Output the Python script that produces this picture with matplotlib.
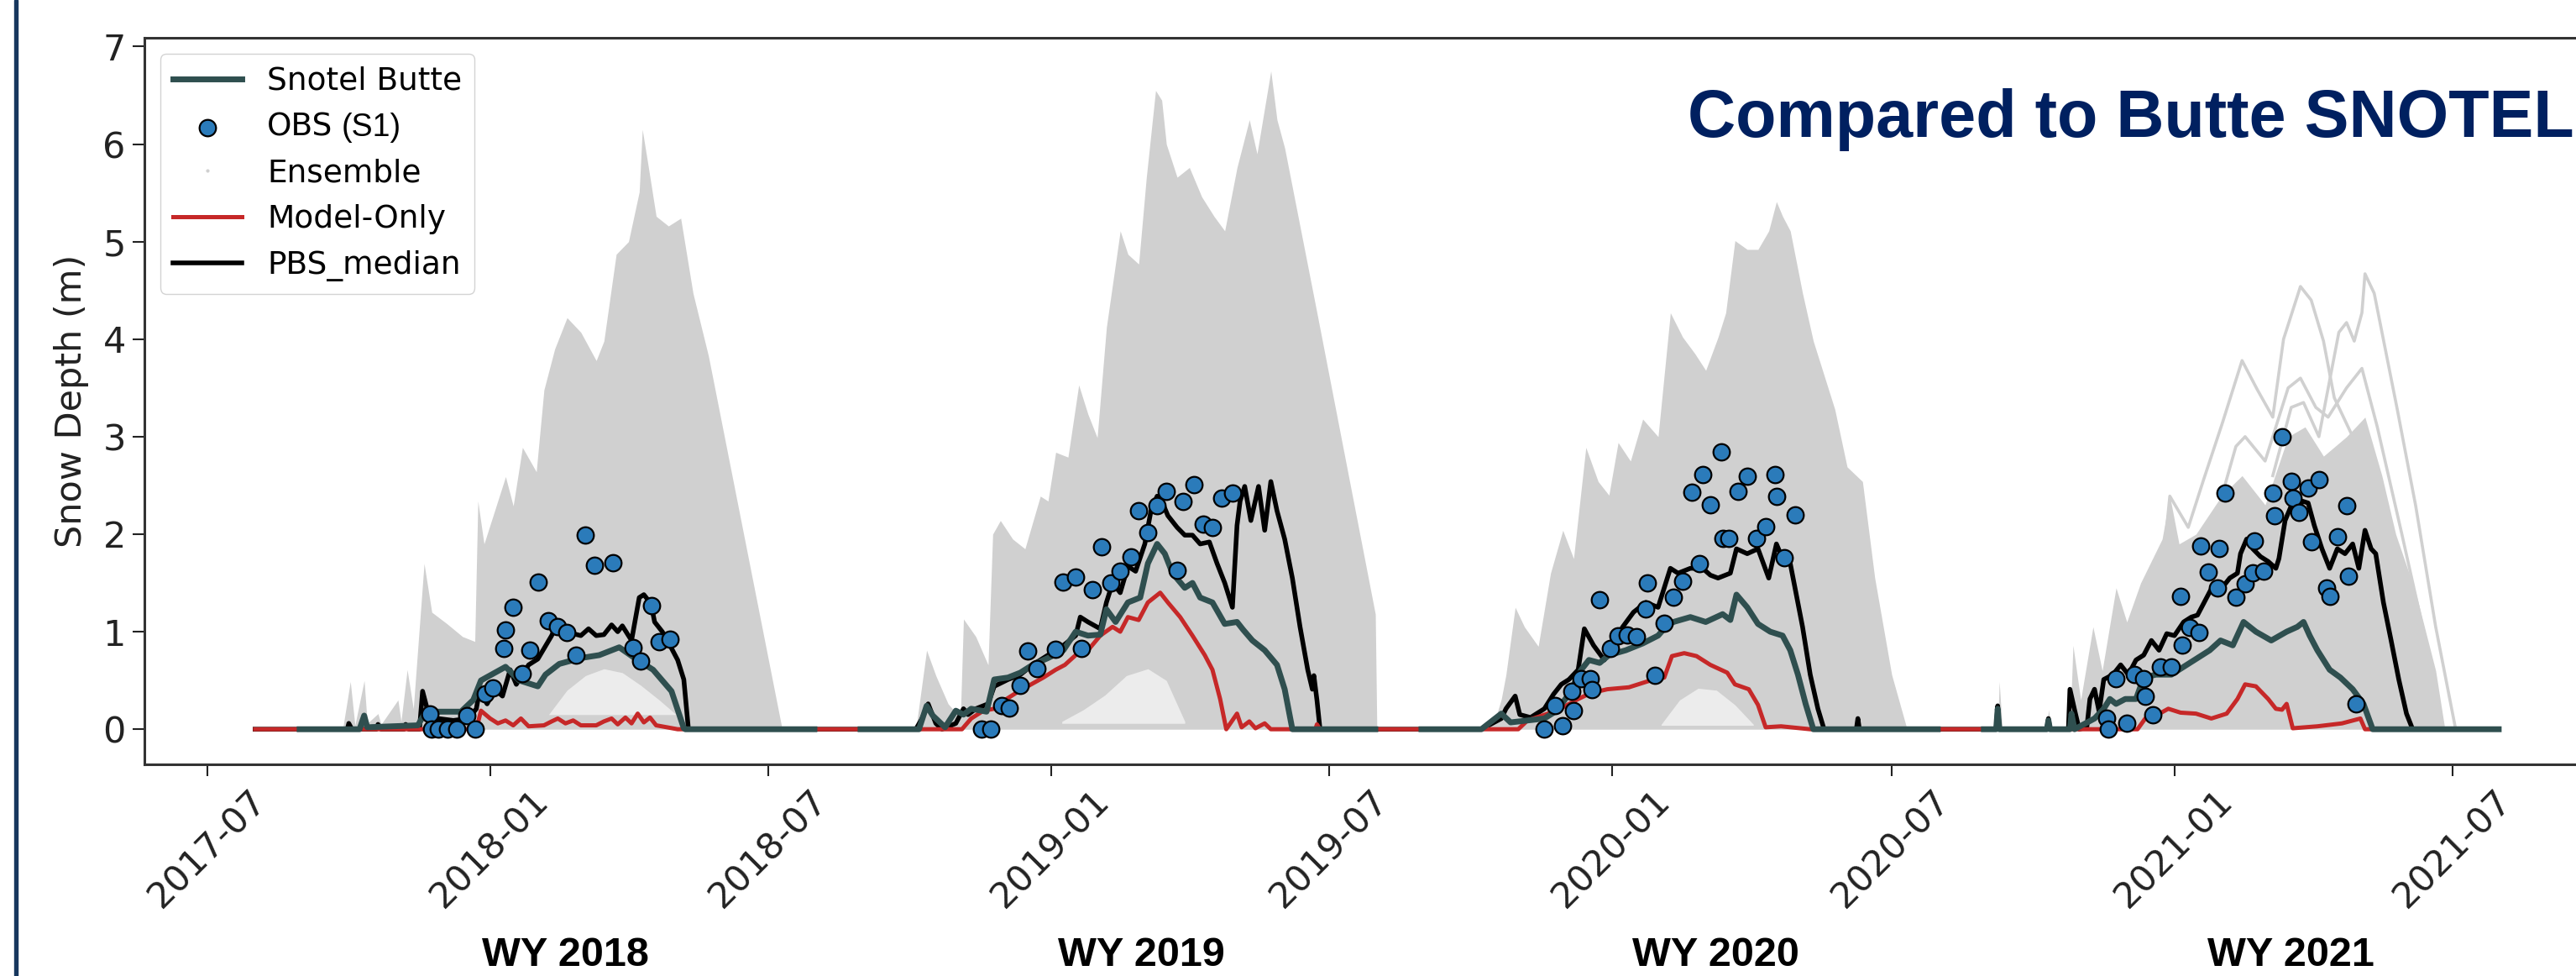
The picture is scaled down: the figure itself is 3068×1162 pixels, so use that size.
import numpy as np
import pandas as pd
import matplotlib
matplotlib.use("Agg")
import matplotlib.pyplot as plt
import matplotlib.dates as mdates
from matplotlib.lines import Line2D

# ---------------- data ----------------
# Model-only run (snow depth, m)
model_pts = [
    ('2017-08-01', 0), ('2017-12-23', 0), ('2017-12-26', 0.19), ('2018-01-01', 0.11),
    ('2018-01-06', 0.06), ('2018-01-11', 0.09), ('2018-01-16', 0.04), ('2018-01-21', 0.11),
    ('2018-01-26', 0.03), ('2018-02-05', 0.04), ('2018-02-10', 0.08), ('2018-02-14', 0.11),
    ('2018-02-19', 0.06), ('2018-02-24', 0.09), ('2018-03-01', 0.04), ('2018-03-11', 0.04),
    ('2018-03-16', 0.08), ('2018-03-21', 0.11), ('2018-03-25', 0.05), ('2018-03-30', 0.12),
    ('2018-04-03', 0.06), ('2018-04-07', 0.16), ('2018-04-11', 0.07), ('2018-04-15', 0.12),
    ('2018-04-19', 0.04), ('2018-05-03', 0),
    ('2018-11-04', 0), ('2018-11-10', 0.11), ('2018-11-18', 0.19), ('2018-11-25', 0.21),
    ('2018-12-03', 0.31), ('2018-12-11', 0.39), ('2018-12-19', 0.46), ('2018-12-27', 0.53),
    ('2019-01-04', 0.61), ('2019-01-10', 0.66), ('2019-01-17', 0.76), ('2019-01-25', 0.81),
    ('2019-02-02', 0.96), ('2019-02-10', 1.05), ('2019-02-15', 1.00), ('2019-02-20', 1.15),
    ('2019-02-27', 1.12), ('2019-03-05', 1.30), ('2019-03-13', 1.40), ('2019-03-18', 1.30),
    ('2019-03-26', 1.15), ('2019-04-03', 0.96), ('2019-04-11', 0.76), ('2019-04-16', 0.61),
    ('2019-04-21', 0.31), ('2019-04-25', 0), ('2019-05-02', 0.16), ('2019-05-05', 0.02),
    ('2019-05-10', 0.08), ('2019-05-14', 0.01), ('2019-05-20', 0.06), ('2019-05-24', 0),
    ('2019-06-22', 0), ('2019-06-23', 0.05), ('2019-06-25', 0),
    ('2019-11-01', 0), ('2019-11-07', 0.09), ('2019-11-26', 0.19), ('2019-12-10', 0.31),
    ('2019-12-18', 0.37), ('2019-12-29', 0.41), ('2020-01-12', 0.43), ('2020-01-26', 0.50),
    ('2020-02-04', 0.53), ('2020-02-09', 0.75), ('2020-02-17', 0.78), ('2020-02-25', 0.75),
    ('2020-03-05', 0.66), ('2020-03-16', 0.58), ('2020-03-21', 0.46), ('2020-03-30', 0.41),
    ('2020-04-05', 0.25), ('2020-04-10', 0.02), ('2020-04-20', 0.03), ('2020-05-09', 0),
    ('2020-12-08', 0), ('2020-12-13', 0.11), ('2020-12-20', 0.14), ('2020-12-28', 0.21),
    ('2021-01-05', 0.17), ('2021-01-15', 0.16), ('2021-01-25', 0.11), ('2021-02-04', 0.16),
    ('2021-02-11', 0.31), ('2021-02-16', 0.46), ('2021-02-23', 0.44), ('2021-03-03', 0.31),
    ('2021-03-08', 0.21), ('2021-03-12', 0.20), ('2021-03-15', 0.26), ('2021-03-19', 0.01),
    ('2021-04-04', 0.03), ('2021-04-20', 0.06), ('2021-05-02', 0.11), ('2021-05-05', 0),
    ('2021-07-31', 0),
]

# PBS ensemble median
pbs_pts = [
    ('2017-08-01', 0), ('2017-09-30', 0), ('2017-10-01', 0.06), ('2017-10-03', 0),
    ('2017-10-19', 0), ('2017-10-20', 0.05), ('2017-10-22', 0), ('2017-11-06', 0),
    ('2017-11-07', 0.05), ('2017-11-09', 0), ('2017-11-16', 0), ('2017-11-18', 0.39),
    ('2017-11-21', 0.21), ('2017-11-23', 0.12), ('2017-12-08', 0.09), ('2017-12-18', 0.11),
    ('2017-12-23', 0.21), ('2017-12-25', 0.39), ('2017-12-30', 0.26), ('2018-01-04', 0.41),
    ('2018-01-09', 0.34), ('2018-01-14', 0.61), ('2018-01-18', 0.46), ('2018-01-26', 0.66),
    ('2018-02-01', 0.72), ('2018-02-10', 0.96), ('2018-02-14', 1.10), ('2018-02-19', 1.05),
    ('2018-02-24', 0.98), ('2018-03-01', 0.96), ('2018-03-06', 1.03), ('2018-03-11', 0.96),
    ('2018-03-16', 0.97), ('2018-03-21', 1.07), ('2018-03-25', 1.00), ('2018-03-28', 1.06),
    ('2018-04-03', 0.91), ('2018-04-08', 1.35), ('2018-04-11', 1.38), ('2018-04-15', 1.30),
    ('2018-04-17', 1.18), ('2018-04-18', 1.10), ('2018-04-23', 1.00), ('2018-04-28', 0.86),
    ('2018-05-03', 0.71), ('2018-05-07', 0.51), ('2018-05-10', 0),
    ('2018-10-05', 0), ('2018-10-09', 0.11), ('2018-10-13', 0.26), ('2018-10-18', 0.06),
    ('2018-10-22', 0), ('2018-10-31', 0.06), ('2018-11-05', 0.21), ('2018-11-08', 0.15),
    ('2018-11-13', 0.21), ('2018-11-21', 0.26), ('2018-11-25', 0.44), ('2018-12-04', 0.51),
    ('2018-12-12', 0.56), ('2018-12-20', 0.66), ('2018-12-30', 0.76), ('2019-01-09', 0.86),
    ('2019-01-17', 0.96), ('2019-01-20', 1.15), ('2019-01-25', 1.10), ('2019-02-02', 1.03),
    ('2019-02-06', 1.30), ('2019-02-10', 1.50), ('2019-02-15', 1.40), ('2019-02-20', 1.67),
    ('2019-02-25', 1.62), ('2019-03-03', 1.90), ('2019-03-07', 2.24), ('2019-03-11', 2.39),
    ('2019-03-14', 2.34), ('2019-03-18', 2.19), ('2019-03-24', 2.07), ('2019-03-29', 1.99),
    ('2019-04-03', 1.99), ('2019-04-08', 1.90), ('2019-04-14', 1.92), ('2019-04-19', 1.70),
    ('2019-04-24', 1.50), ('2019-04-29', 1.25), ('2019-05-02', 2.09), ('2019-05-04', 2.34),
    ('2019-05-07', 2.49), ('2019-05-11', 2.14), ('2019-05-16', 2.49), ('2019-05-20', 2.04),
    ('2019-05-24', 2.54), ('2019-05-28', 2.24), ('2019-06-02', 1.95), ('2019-06-07', 1.55),
    ('2019-06-12', 1.05), ('2019-06-17', 0.61), ('2019-06-20', 0.41), ('2019-06-21', 0.55),
    ('2019-06-23', 0.30), ('2019-06-25', 0),
    ('2019-10-08', 0), ('2019-10-21', 0.11), ('2019-10-24', 0.21), ('2019-10-30', 0.34),
    ('2019-11-02', 0.15), ('2019-11-09', 0.12), ('2019-11-18', 0.21), ('2019-11-24', 0.36),
    ('2019-11-29', 0.46), ('2019-12-04', 0.51), ('2019-12-10', 0.61), ('2019-12-14', 1.03),
    ('2019-12-20', 0.86), ('2019-12-27', 0.71), ('2020-01-01', 0.86), ('2020-01-08', 1.05),
    ('2020-01-15', 1.20), ('2020-01-23', 1.30), ('2020-01-31', 1.25), ('2020-02-08', 1.65),
    ('2020-02-13', 1.60), ('2020-02-21', 1.65), ('2020-02-29', 1.65), ('2020-03-05', 1.58),
    ('2020-03-10', 1.55), ('2020-03-18', 1.60), ('2020-03-22', 1.85), ('2020-03-29', 1.80),
    ('2020-04-05', 1.85), ('2020-04-12', 1.55), ('2020-04-17', 1.90), ('2020-04-21', 1.75),
    ('2020-04-26', 1.70), ('2020-05-04', 1.05), ('2020-05-09', 0.56), ('2020-05-14', 0.21),
    ('2020-05-18', 0), ('2020-06-08', 0), ('2020-06-09', 0.11), ('2020-06-10', 0),
    ('2020-09-07', 0), ('2020-09-08', 0.24), ('2020-09-09', 0), ('2020-10-10', 0),
    ('2020-10-11', 0.11), ('2020-10-12', 0), ('2020-10-24', 0), ('2020-10-25', 0.41),
    ('2020-10-28', 0.20), ('2020-10-31', 0), ('2020-11-05', 0.02), ('2020-11-07', 0.31),
    ('2020-11-10', 0.41), ('2020-11-13', 0.18), ('2020-11-16', 0.51), ('2020-11-22', 0.56),
    ('2020-11-27', 0.66), ('2020-12-02', 0.56), ('2020-12-07', 0.71), ('2020-12-12', 0.76),
    ('2020-12-17', 0.91), ('2020-12-22', 0.81), ('2020-12-27', 0.98), ('2021-01-01', 0.96),
    ('2021-01-07', 1.10), ('2021-01-12', 1.15), ('2021-01-16', 1.17), ('2021-01-22', 1.35),
    ('2021-01-27', 1.50), ('2021-02-01', 1.45), ('2021-02-06', 1.55), ('2021-02-11', 1.60),
    ('2021-02-13', 1.80), ('2021-02-17', 1.95), ('2021-02-21', 1.85), ('2021-02-26', 1.77),
    ('2021-03-03', 1.72), ('2021-03-08', 1.65), ('2021-03-10', 1.75), ('2021-03-14', 2.14),
    ('2021-03-18', 2.29), ('2021-03-22', 2.17), ('2021-03-25', 2.34), ('2021-03-29', 2.32),
    ('2021-04-02', 2.09), ('2021-04-07', 1.85), ('2021-04-12', 1.65), ('2021-04-17', 1.85),
    ('2021-04-22', 1.80), ('2021-04-27', 1.90), ('2021-05-01', 1.65), ('2021-05-05', 2.04),
    ('2021-05-09', 1.85), ('2021-05-12', 1.80), ('2021-05-17', 1.30), ('2021-05-22', 0.91),
    ('2021-05-27', 0.51), ('2021-06-01', 0.16), ('2021-06-05', 0), ('2021-07-31', 0),
]

# Butte SNOTEL, one segment per water year (station has no data in August)
snotel_2018 = [
    ('2017-08-30', 0), ('2017-10-08', 0), ('2017-10-11', 0.14), ('2017-10-13', 0.02),
    ('2017-11-15', 0.04), ('2017-11-20', 0.18), ('2017-12-13', 0.18), ('2017-12-21', 0.30),
    ('2017-12-26', 0.50), ('2018-01-11', 0.64), ('2018-01-20', 0.50), ('2018-02-01', 0.44),
    ('2018-02-06', 0.56), ('2018-02-15', 0.67), ('2018-03-01', 0.73), ('2018-03-13', 0.76),
    ('2018-03-26', 0.84), ('2018-04-05', 0.73), ('2018-04-17', 0.61), ('2018-04-29', 0.39),
    ('2018-05-07', 0.01), ('2018-05-08', 0), ('2018-07-31', 0),
]
snotel_2019 = [
    ('2018-08-30', 0), ('2018-10-07', 0), ('2018-10-12', 0.24), ('2018-10-16', 0.14),
    ('2018-10-24', 0.02), ('2018-10-31', 0.19), ('2018-11-05', 0.15), ('2018-11-10', 0.21),
    ('2018-11-20', 0.18), ('2018-11-25', 0.51), ('2018-12-04', 0.53), ('2018-12-12', 0.58),
    ('2018-12-20', 0.66), ('2018-12-30', 0.73), ('2019-01-09', 0.81), ('2019-01-17', 1.00),
    ('2019-01-25', 0.96), ('2019-02-02', 0.97), ('2019-02-06', 1.23), ('2019-02-12', 1.10),
    ('2019-02-20', 1.30), ('2019-02-28', 1.35), ('2019-03-05', 1.70), ('2019-03-11', 1.90),
    ('2019-03-16', 1.80), ('2019-03-21', 1.60), ('2019-03-29', 1.45), ('2019-04-03', 1.50),
    ('2019-04-08', 1.35), ('2019-04-16', 1.30), ('2019-04-24', 1.08), ('2019-05-02', 1.10),
    ('2019-05-06', 1.02), ('2019-05-12', 0.91), ('2019-05-20', 0.81), ('2019-05-28', 0.66),
    ('2019-06-02', 0.41), ('2019-06-07', 0), ('2019-07-31', 0),
]
snotel_2020 = [
    ('2019-08-30', 0), ('2019-10-08', 0), ('2019-10-21', 0.16), ('2019-10-27', 0.07),
    ('2019-11-18', 0.11), ('2019-11-26', 0.19), ('2019-12-04', 0.36), ('2019-12-12', 0.61),
    ('2019-12-17', 0.71), ('2019-12-24', 0.68), ('2019-12-30', 0.76), ('2020-01-10', 0.81),
    ('2020-01-21', 0.88), ('2020-01-31', 0.96), ('2020-02-05', 1.05), ('2020-02-10', 1.10),
    ('2020-02-21', 1.15), ('2020-03-02', 1.10), ('2020-03-13', 1.18), ('2020-03-18', 1.12),
    ('2020-03-22', 1.38), ('2020-03-29', 1.25), ('2020-04-05', 1.08), ('2020-04-13', 1.00),
    ('2020-04-21', 0.96), ('2020-04-26', 0.81), ('2020-05-01', 0.56), ('2020-05-06', 0.26),
    ('2020-05-11', 0), ('2020-07-31', 0),
]
snotel_2021 = [
    ('2020-08-30', 0), ('2020-09-07', 0), ('2020-09-08', 0.21), ('2020-09-09', 0),
    ('2020-10-10', 0), ('2020-10-11', 0.09), ('2020-10-12', 0), ('2020-10-25', 0),
    ('2020-10-26', 0.16), ('2020-10-28', 0), ('2020-11-10', 0.11), ('2020-11-16', 0.21),
    ('2020-11-20', 0.31), ('2020-11-24', 0.26), ('2020-11-30', 0.31), ('2020-12-07', 0.31),
    ('2020-12-12', 0.53), ('2020-12-20', 0.56), ('2020-12-30', 0.56), ('2021-01-06', 0.63),
    ('2021-01-14', 0.71), ('2021-01-19', 0.76), ('2021-01-24', 0.81), ('2021-01-31', 0.91),
    ('2021-02-08', 0.86), ('2021-02-15', 1.10), ('2021-02-23', 1.00), ('2021-03-05', 0.91),
    ('2021-03-15', 1.00), ('2021-03-22', 1.05), ('2021-03-26', 1.10), ('2021-03-30', 0.96),
    ('2021-04-04', 0.81), ('2021-04-12', 0.61), ('2021-04-19', 0.53), ('2021-04-27', 0.41),
    ('2021-05-04', 0.26), ('2021-05-10', 0), ('2021-07-31', 0),
]
snotel_segments = [snotel_2018, snotel_2019, snotel_2020, snotel_2021]

# observations (S1)
obs_pts = [
    ('2017-11-23', 0.16), ('2017-11-24', 0), ('2017-11-28', 0), ('2017-12-04', 0),
    ('2017-12-10', 0), ('2017-12-17', 0.14), ('2017-12-22', 0), ('2017-12-29', 0.36),
    ('2018-01-03', 0.42), ('2018-01-10', 0.83), ('2018-01-11', 1.02), ('2018-01-16', 1.25),
    ('2018-01-22', 0.57), ('2018-01-27', 0.81), ('2018-02-01', 1.51), ('2018-02-08', 1.11),
    ('2018-02-14', 1.05), ('2018-02-20', 0.99), ('2018-02-26', 0.76), ('2018-03-04', 1.99),
    ('2018-03-10', 1.68), ('2018-03-22', 1.71), ('2018-04-04', 0.84), ('2018-04-09', 0.70),
    ('2018-04-16', 1.27), ('2018-04-21', 0.90), ('2018-04-28', 0.92),
    ('2018-11-17', 0), ('2018-11-23', 0), ('2018-11-30', 0.24), ('2018-12-05', 0.22),
    ('2018-12-12', 0.45), ('2018-12-17', 0.80), ('2018-12-23', 0.62), ('2019-01-04', 0.82),
    ('2019-01-09', 1.51), ('2019-01-17', 1.56), ('2019-01-21', 0.83), ('2019-01-28', 1.43),
    ('2019-02-03', 1.87), ('2019-02-09', 1.50), ('2019-02-15', 1.62), ('2019-02-22', 1.77),
    ('2019-02-27', 2.24), ('2019-03-05', 2.02), ('2019-03-11', 2.29), ('2019-03-17', 2.44),
    ('2019-03-24', 1.63), ('2019-03-28', 2.34), ('2019-04-04', 2.51), ('2019-04-10', 2.10),
    ('2019-04-16', 2.07), ('2019-04-22', 2.37), ('2019-04-29', 2.42),
    ('2019-11-18', 0), ('2019-11-25', 0.24), ('2019-11-30', 0.04), ('2019-12-06', 0.39),
    ('2019-12-07', 0.19), ('2019-12-12', 0.52), ('2019-12-18', 0.52), ('2019-12-19', 0.41),
    ('2019-12-24', 1.33), ('2019-12-31', 0.83), ('2020-01-05', 0.96), ('2020-01-11', 0.97),
    ('2020-01-17', 0.95), ('2020-01-23', 1.23), ('2020-01-24', 1.50), ('2020-01-29', 0.55),
    ('2020-02-04', 1.09), ('2020-02-10', 1.35), ('2020-02-16', 1.52), ('2020-02-22', 2.43),
    ('2020-02-27', 1.70), ('2020-02-29', 2.61), ('2020-03-05', 2.30), ('2020-03-12', 2.84),
    ('2020-03-13', 1.96), ('2020-03-17', 1.96), ('2020-03-23', 2.44), ('2020-03-29', 2.59),
    ('2020-04-04', 1.96), ('2020-04-10', 2.08), ('2020-04-16', 2.61), ('2020-04-17', 2.39),
    ('2020-04-22', 1.76), ('2020-04-29', 2.20),
    ('2020-11-18', 0.11), ('2020-11-19', 0), ('2020-11-24', 0.52), ('2020-12-01', 0.06),
    ('2020-12-06', 0.56), ('2020-12-12', 0.52), ('2020-12-13', 0.34), ('2020-12-18', 0.15),
    ('2020-12-23', 0.64), ('2020-12-30', 0.64), ('2021-01-05', 1.36), ('2021-01-06', 0.86),
    ('2021-01-11', 1.04), ('2021-01-17', 0.99), ('2021-01-18', 1.88), ('2021-01-23', 1.61),
    ('2021-01-29', 1.45), ('2021-01-30', 1.85), ('2021-02-03', 2.42), ('2021-02-10', 1.35),
    ('2021-02-16', 1.49), ('2021-02-21', 1.60), ('2021-02-22', 1.93), ('2021-02-28', 1.62),
    ('2021-03-06', 2.42), ('2021-03-07', 2.19), ('2021-03-12', 3.00), ('2021-03-18', 2.54),
    ('2021-03-19', 2.37), ('2021-03-23', 2.22), ('2021-03-29', 2.47), ('2021-03-31', 1.92),
    ('2021-04-05', 2.56), ('2021-04-10', 1.45), ('2021-04-12', 1.36), ('2021-04-17', 1.97),
    ('2021-04-23', 2.29), ('2021-04-24', 1.57), ('2021-04-29', 0.26),
]

# ensemble spread: upper edge of the member cloud per water year
ens_top_2018 = [
    ('2017-09-27', 0), ('2017-10-02', 0.49), ('2017-10-05', 0.04), ('2017-10-11', 0.50),
    ('2017-10-13', 0.06), ('2017-10-20', 0.16), ('2017-10-22', 0.05), ('2017-11-02', 0.30),
    ('2017-11-04', 0.08), ('2017-11-08', 0.61), ('2017-11-12', 0.21), ('2017-11-19', 1.70),
    ('2017-11-24', 1.20), ('2017-12-04', 1.08), ('2017-12-14', 0.95), ('2017-12-22', 0.90),
    ('2017-12-24', 2.34), ('2017-12-28', 1.90), ('2018-01-11', 2.59), ('2018-01-16', 2.29),
    ('2018-01-22', 2.89), ('2018-01-31', 2.64), ('2018-02-05', 3.48), ('2018-02-12', 3.90),
    ('2018-02-20', 4.22), ('2018-03-01', 4.07), ('2018-03-11', 3.78), ('2018-03-16', 3.98),
    ('2018-03-24', 4.87), ('2018-04-01', 5.00), ('2018-04-08', 5.51), ('2018-04-10', 6.15),
    ('2018-04-14', 5.76), ('2018-04-19', 5.26), ('2018-04-27', 5.16), ('2018-05-05', 5.24),
    ('2018-05-13', 4.47), ('2018-05-23', 3.83), ('2018-07-10', 0),
]
ens_top_2019 = [
    ('2018-10-05', 0), ('2018-10-12', 0.81), ('2018-10-18', 0.55), ('2018-10-26', 0.26),
    ('2018-11-03', 0.12), ('2018-11-05', 1.13), ('2018-11-13', 0.95), ('2018-11-21', 0.66),
    ('2018-11-24', 2.00), ('2018-11-29', 2.14), ('2018-12-07', 1.95), ('2018-12-15', 1.85),
    ('2018-12-25', 2.39), ('2018-12-30', 2.34), ('2019-01-04', 2.84), ('2019-01-12', 2.79),
    ('2019-01-19', 3.53), ('2019-01-25', 3.23), ('2019-01-31', 2.99), ('2019-02-06', 4.12),
    ('2019-02-15', 5.11), ('2019-02-20', 4.87), ('2019-02-27', 4.77), ('2019-03-04', 5.66),
    ('2019-03-10', 6.55), ('2019-03-14', 6.45), ('2019-03-17', 6.00), ('2019-03-24', 5.66),
    ('2019-04-01', 5.76), ('2019-04-09', 5.46), ('2019-04-17', 5.26), ('2019-04-24', 5.11),
    ('2019-05-02', 5.76), ('2019-05-10', 6.25), ('2019-05-15', 5.90), ('2019-05-24', 6.75),
    ('2019-05-28', 6.25), ('2019-06-02', 5.96), ('2019-06-23', 4.27), ('2019-07-31', 1.18),
    ('2019-08-01', 0),
]
ens_top_2020 = [
    ('2019-10-08', 0), ('2019-10-17', 0.10), ('2019-10-21', 0.31), ('2019-10-24', 0.56),
    ('2019-10-30', 1.25), ('2019-11-05', 1.05), ('2019-11-14', 0.85), ('2019-11-22', 1.60),
    ('2019-11-30', 2.04), ('2019-12-07', 1.75), ('2019-12-15', 2.89), ('2019-12-23', 2.54),
    ('2019-12-30', 2.40), ('2020-01-05', 2.94), ('2020-01-13', 2.75), ('2020-01-21', 3.18),
    ('2020-01-31', 3.00), ('2020-02-08', 4.27), ('2020-02-16', 4.02), ('2020-02-24', 3.85),
    ('2020-03-02', 3.68), ('2020-03-10', 4.02), ('2020-03-15', 4.27), ('2020-03-21', 5.01),
    ('2020-03-29', 4.92), ('2020-04-05', 4.92), ('2020-04-12', 5.11), ('2020-04-17', 5.41),
    ('2020-04-21', 5.26), ('2020-04-26', 5.11), ('2020-05-04', 4.47), ('2020-05-11', 3.98),
    ('2020-05-25', 3.28), ('2020-06-02', 2.69), ('2020-06-12', 2.54), ('2020-06-20', 1.55),
    ('2020-07-01', 0.56), ('2020-07-11', 0),
]
ens_top_2021 = [
    ('2020-09-08', 0), ('2020-09-09', 0.49), ('2020-09-11', 0), ('2020-10-10', 0),
    ('2020-10-11', 0.20), ('2020-10-13', 0), ('2020-10-25', 0), ('2020-10-27', 0.86),
    ('2020-11-01', 0.30), ('2020-11-09', 1.05), ('2020-11-15', 0.60), ('2020-11-24', 1.45),
    ('2020-12-01', 1.10), ('2020-12-10', 1.50), ('2020-12-24', 1.95), ('2020-12-29', 2.39),
    ('2021-01-04', 1.90), ('2021-01-15', 2.00), ('2021-02-01', 2.40), ('2021-02-14', 2.60),
    ('2021-03-01', 2.30), ('2021-03-16', 3.00), ('2021-03-27', 3.10), ('2021-04-08', 2.80),
    ('2021-04-23', 3.00), ('2021-05-05', 3.20), ('2021-05-16', 2.60), ('2021-05-25', 2.00),
    ('2021-06-07', 1.40), ('2021-06-20', 0.60), ('2021-06-26', 0),
]
ens_tops = [ens_top_2018, ens_top_2019, ens_top_2020, ens_top_2021]

# single high members that stand out of the 2021 cloud
ens_member_a = [
    ('2020-12-24', 1.60), ('2020-12-29', 2.39), ('2021-01-10', 2.07), ('2021-01-20', 2.56),
    ('2021-02-01', 3.13), ('2021-02-14', 3.78), ('2021-02-24', 3.48), ('2021-03-06', 3.20),
    ('2021-03-13', 4.00), ('2021-03-24', 4.54), ('2021-03-31', 4.40), ('2021-04-08', 3.98),
    ('2021-04-15', 3.40), ('2021-04-27', 3.00), ('2021-05-11', 2.50),
]
ens_member_b = [
    ('2021-03-06', 2.60), ('2021-03-18', 3.30), ('2021-03-26', 3.35), ('2021-04-05', 3.00),
    ('2021-04-18', 4.07), ('2021-04-23', 4.17), ('2021-04-28', 3.98), ('2021-05-03', 4.27),
    ('2021-05-05', 4.67), ('2021-05-11', 4.47), ('2021-05-26', 3.28), ('2021-06-07', 2.29),
    ('2021-06-20', 1.05), ('2021-07-03', 0),
]
ens_member_c = [
    ('2021-02-01', 2.40), ('2021-02-10', 2.90), ('2021-02-16', 3.00), ('2021-03-01', 2.75),
    ('2021-03-16', 3.50), ('2021-03-24', 3.60), ('2021-04-03', 3.30), ('2021-04-11', 3.20),
    ('2021-04-23', 3.50), ('2021-05-03', 3.70), ('2021-05-13', 3.10), ('2021-05-29', 2.00),
    ('2021-06-15', 0.80), ('2021-06-22', 0),
]
ens_members = [ens_member_a, ens_member_b, ens_member_c]

# sparse (nearly empty) pockets low in the cloud: (date, low, high)
ens_gap_2018 = [
    ('2018-02-08', 0.15, 0.15), ('2018-02-20', 0.15, 0.40), ('2018-03-04', 0.15, 0.55),
    ('2018-03-16', 0.15, 0.62), ('2018-03-28', 0.15, 0.58), ('2018-04-09', 0.15, 0.45),
    ('2018-04-21', 0.15, 0.30), ('2018-05-02', 0.15, 0.15),
]
ens_gap_2019 = [
    ('2019-01-08', 0.06, 0.08), ('2019-01-22', 0.06, 0.20), ('2019-02-05', 0.06, 0.35),
    ('2019-02-19', 0.06, 0.55), ('2019-03-05', 0.06, 0.62), ('2019-03-17', 0.06, 0.50),
    ('2019-03-29', 0.06, 0.08),
]
ens_gap_2020 = [
    ('2020-02-02', 0.04, 0.05), ('2020-02-14', 0.04, 0.30), ('2020-02-26', 0.04, 0.42),
    ('2020-03-09', 0.04, 0.40), ('2020-03-21', 0.04, 0.25), ('2020-04-02', 0.04, 0.05),
]
ens_gaps = [ens_gap_2018, ens_gap_2019, ens_gap_2020]

wy_labels = ['WY 2018', 'WY 2019', 'WY 2020', 'WY 2021']
title_text = 'Compared to Butte SNOTEL'


def series(pts):
    d, v = zip(*pts)
    return pd.to_datetime(list(d)), np.array(v, dtype=float)


# ---------------- styling ----------------
ENS_C = '#d0d0d0'
SNOTEL_C = '#2f4f4f'
MODEL_C = '#c62828'
OBS_C = '#2b7bba'
TXT_C = '#222222'

W, H = 3068, 1162
fig = plt.figure(figsize=(W / 100, H / 100), dpi=100)
ax = fig.add_axes([172 / W, 252 / H, 2954 / W, 865 / H])

# ensemble cloud
for top in ens_tops:
    x, y = series(top)
    ax.fill_between(x, 0, y, color=ENS_C, lw=0, zorder=1)
for gap in ens_gaps:
    d, lo, hi = zip(*gap)
    ax.fill_between(pd.to_datetime(list(d)), lo, hi, color='white', alpha=0.6, lw=0, zorder=1.2)
for mem in ens_members:
    x, y = series(mem)
    ax.plot(x, y, color=ENS_C, lw=2.6, zorder=1)

x, y = series(pbs_pts)
pbs_line, = ax.plot(x, y, color='black', lw=4.0, zorder=2)
x, y = series(model_pts)
model_line, = ax.plot(x, y, color=MODEL_C, lw=3.6, zorder=3)
snotel_lines = []
for seg in snotel_segments:
    x, y = series(seg)
    ln, = ax.plot(x, y, color=SNOTEL_C, lw=5.0, zorder=4)
    snotel_lines.append(ln)
x, y = series(obs_pts)
obs_sc = ax.scatter(x, y, s=200, c=OBS_C, edgecolors='black', linewidths=1.6, zorder=5)

ax.set_xlim(pd.Timestamp('2017-05-21'), pd.Timestamp('2021-10-21'))
ax.set_ylim(-0.36, 7.09)
ax.xaxis.set_major_locator(mdates.MonthLocator(bymonth=[1, 7]))
ax.xaxis.set_major_formatter(mdates.DateFormatter('%Y-%m'))
ax.set_yticks(range(0, 8))
ax.tick_params(labelsize=31, length=10, width=1.5, colors=TXT_C, pad=6)
plt.setp(ax.get_xticklabels(), rotation=45)
for sp in ax.spines.values():
    sp.set_color('#333333')
    sp.set_linewidth(2.2)
ax.set_ylabel('Snow Depth (m)', fontsize=31, color=TXT_C, labelpad=12)

ens_proxy = Line2D([], [], marker='.', ls='none', color=ENS_C, markersize=4)
leg = ax.legend([snotel_lines[0], obs_sc, ens_proxy, model_line, pbs_line],
                ['Snotel Butte', 'OBS', 'Ensemble', 'Model-Only', 'PBS_median'],
                loc='upper left', fontsize=27, handlelength=2.2, labelspacing=0.5,
                borderaxespad=0.5, framealpha=0.85, edgecolor='#cccccc')
leg.set_zorder(10)

# "(S1)" was typed next to OBS in another font
fig.canvas.draw()
bb = leg.get_texts()[1].get_window_extent()
fig.text((bb.x1 + 10) / W, (bb.y0 + bb.y1) / 2 / H, '(S1)', fontsize=27,
         family='Liberation Sans', color='black', va='center', zorder=11)

fig.text(2010 / W, 1 - 163 / H, title_text, fontsize=57, fontweight='bold',
         color='#002060', family='Liberation Sans', va='baseline', ha='left')

for xc, lab in zip([673, 1359, 2043, 2728], wy_labels):
    fig.text(xc / W, 1 - 1150 / H, lab, fontsize=35, fontweight='bold',
             family='Liberation Sans', ha='center', va='baseline', color='black')

# slide border on the left
fig.add_artist(plt.Rectangle((17 / W, 0), 4 / W, 1, transform=fig.transFigure,
                             color='#17375e', zorder=20))

fig.savefig('out.png', dpi=100)
